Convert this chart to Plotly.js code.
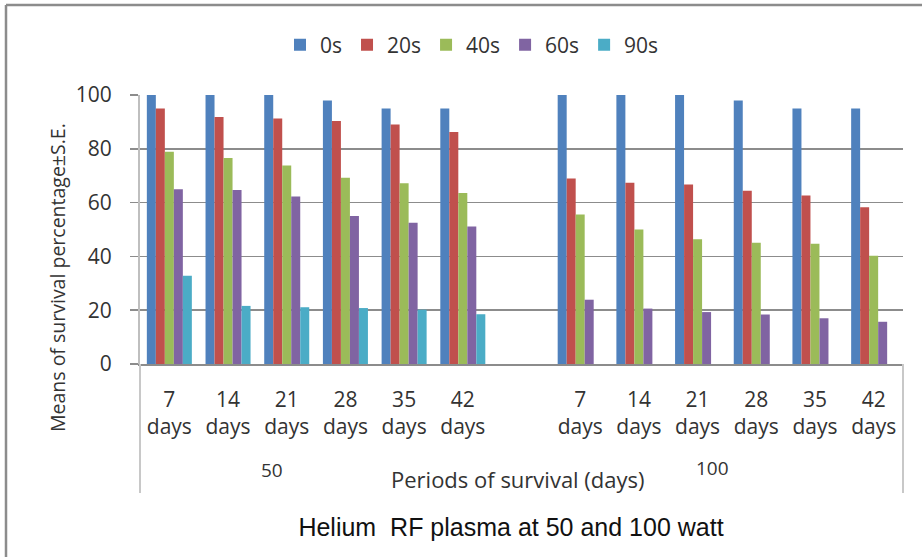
<!DOCTYPE html>
<html>
<head>
<meta charset="utf-8">
<script src="https://cdn.plot.ly/plotly-3.0.1.min.js"></script>
<style>html,body{margin:0;padding:0;background:#fff;}#chart{width:922px;height:557px;}</style>
</head>
<body>
<div id="chart"></div>
<script>
// ---- data ----
const periods = ["7 days", "14 days", "21 days", "28 days", "35 days", "42 days"];
const powers = ["50", "100"];
const seriesNames = ["0s", "20s", "40s", "60s", "90s"];
const seriesColors = ["#4F81BD", "#C0504D", "#9BBB59", "#8064A2", "#4BACC6"];

const s0_50  = [100, 100, 100, 98, 95, 95];
const s0_100 = [100, 100, 100, 98, 95, 95];
const s20_50  = [95, 91.8, 91.3, 90.3, 89, 86.2];
const s20_100 = [69, 67.4, 66.7, 64.4, 62.6, 58.3];
const s40_50  = [78.9, 76.6, 73.8, 69.2, 67.2, 63.6];
const s40_100 = [55.6, 50, 46.4, 45.1, 44.7, 40.2];
const s60_50  = [65, 64.7, 62.3, 55, 52.5, 51.1];
const s60_100 = [23.9, 20.6, 19.3, 18.4, 17, 15.7];
const s90_50  = [32.8, 21.6, 21.1, 20.8, 20.2, 18.5];
const s90_100 = [null, null, null, null, null, null];

const values50 = [s0_50, s20_50, s40_50, s60_50, s90_50];
const values100 = [s0_100, s20_100, s40_100, s60_100, s90_100];

// ---- build category keys: 50 W group, empty gap, 100 W group ----
const gapKey = "gap";
const keys = [];
const labels = [];
periods.forEach(p => { keys.push(powers[0] + "|" + p); labels.push(p.replace(" ", "<br>")); });
keys.push(gapKey); labels.push("");
periods.forEach(p => { keys.push(powers[1] + "|" + p); labels.push(p.replace(" ", "<br>")); });

const traces = seriesNames.map((name, i) => ({
  type: "bar",
  name: name,
  x: keys,
  y: [...values50[i], null, ...values100[i]],
  marker: {color: seriesColors[i]},
  hoverinfo: "x+y+name"
}));

const W = 922, H = 557;
const L = 140, R = 19, T = 95, B = 193;
const pw = W - L - R, ph = H - T - B;
const px = v => (v - L) / pw;          // pixel x -> paper
const py = v => (H - B - v) / ph;      // pixel y -> paper
const FONT = "'Open Sans', Lato, sans-serif";
const TXT = "#333333";

const layout = {
  width: W, height: H,
  margin: {l: L, r: R, t: T, b: B},
  paper_bgcolor: "#ffffff",
  plot_bgcolor: "#ffffff",
  font: {family: FONT, color: TXT},
  barmode: "group",
  bargap: 0.233,
  bargroupgap: 0,
  showlegend: true,
  legend: {
    orientation: "h",
    x: 472 / W, xanchor: "center", xref: "container",
    y: 1 - 45 / H, yanchor: "middle", yref: "container",
    font: {size: 21, color: TXT},
    itemwidth: 30,
    traceorder: "normal"
  },
  title: {
    text: "Helium  RF plasma at 50 and 100 watt",
    font: {family: "'Liberation Sans', Arial, sans-serif", size: 25, color: "#111111"},
    x: 511 / W, xanchor: "center", xref: "container",
    y: 1 - 527 / H, yanchor: "middle", yref: "container"
  },
  xaxis: {
    type: "category",
    categoryorder: "array",
    categoryarray: keys,
    tickvals: keys,
    ticktext: labels,
    ticks: "",
    showgrid: false,
    showline: true,
    linecolor: "#8c8c8c",
    linewidth: 1.5,
    tickfont: {size: 21, color: TXT},
    ticklabelstandoff: 16,
    fixedrange: true
  },
  yaxis: {
    range: [0, 100],
    tickvals: [0, 20, 40, 60, 80, 100],
    ticks: "outside",
    ticklen: 8,
    tickcolor: "#8c8c8c",
    tickwidth: 1.5,
    showgrid: true,
    gridcolor: "#8c8c8c",
    gridwidth: 1.5,
    zeroline: false,
    showline: true,
    linecolor: "#bfbfbf",
    linewidth: 2,
    tickfont: {size: 21, color: TXT},
    ticklabelstandoff: 14,
    fixedrange: true
  },
  annotations: [
    {text: "Means of survival percentage±S.E.", xref: "paper", yref: "paper", x: px(57), y: py(278),
     textangle: -90, showarrow: false, xanchor: "center", yanchor: "middle", font: {size: 19.5, color: TXT}},
    {text: powers[0], xref: "paper", yref: "paper", x: px(272), y: py(470), showarrow: false,
     xanchor: "center", yanchor: "middle", font: {size: 19, color: TXT}},
    {text: powers[1], xref: "paper", yref: "paper", x: px(712), y: py(468), showarrow: false,
     xanchor: "center", yanchor: "middle", font: {size: 19, color: TXT}},
    {text: "Periods of survival (days)", xref: "paper", yref: "paper", x: px(518), y: py(479), showarrow: false,
     xanchor: "center", yanchor: "middle", font: {size: 22, color: TXT}}
  ],
  shapes: [
    {type: "line", xref: "paper", yref: "paper", x0: 0, x1: 0, y0: 0, y1: py(493),
     line: {color: "#c8c8c8", width: 2}},
    {type: "line", xref: "paper", yref: "paper", x0: 1, x1: 1, y0: 0, y1: py(493),
     line: {color: "#c8c8c8", width: 2}},
    {type: "line", xref: "paper", yref: "paper", x0: px(6), x1: px(6), y0: py(5), y1: py(560),
     line: {color: "#8c8c8c", width: 2.5}},
    {type: "line", xref: "paper", yref: "paper", x0: px(6), x1: px(925), y0: py(5), y1: py(5),
     line: {color: "#8c8c8c", width: 2.5}}
  ]
};

Plotly.newPlot("chart", traces, layout, {displayModeBar: false, staticPlot: true});
</script>
</body>
</html>
